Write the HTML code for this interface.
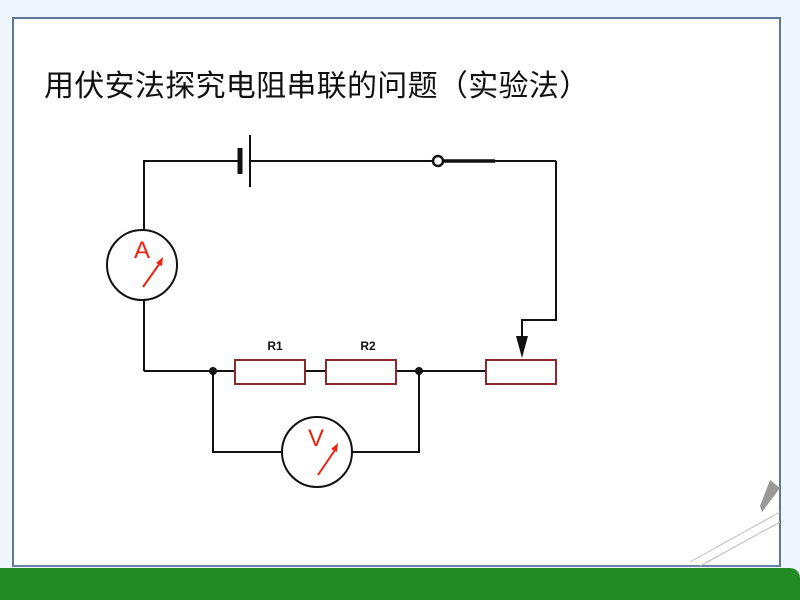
<!DOCTYPE html>
<html><head><meta charset="utf-8"><style>
html,body{margin:0;padding:0}
body{width:800px;height:600px;background:#eef5fb;position:relative;overflow:hidden;font-family:"Liberation Sans","Noto Sans CJK SC",sans-serif}
.frame{position:absolute;left:12px;top:17px;width:765px;height:546px;border:2px solid #5d7799;background:#fff;border-bottom-color:#6a84a8}
.title{position:absolute;left:44px;top:61px;font-size:30px;color:#111;white-space:nowrap;letter-spacing:0.3px}
.green{position:absolute;left:0;top:568px;width:800px;height:32px;background:#238b24;border-top-right-radius:10px}
</style></head><body>
<div class="frame"></div>
<div class="title">用伏安法探究电阻串联的问题（实验法）</div>
<svg style="position:absolute;left:0;top:0" width="800" height="600">
<g stroke="#111" stroke-width="2" fill="none">
<polyline points="240,161 144,161 144,230"/>
<line x1="250" y1="161" x2="433" y2="161"/>
<line x1="495" y1="161" x2="556" y2="161"/>
<polyline points="556,161 556,320 522,320 522,340"/>
<line x1="144" y1="300" x2="144" y2="371"/>
<line x1="144" y1="371" x2="235" y2="371"/>
<line x1="305" y1="371" x2="326" y2="371"/>
<line x1="396" y1="371" x2="486" y2="371"/>
<polyline points="213,371 213,452 282,452"/>
<polyline points="419,371 419,452 352,452"/>
<circle cx="142" cy="265" r="35"/>
<circle cx="317" cy="452" r="35"/>
<circle cx="438" cy="161" r="5" stroke-width="2.5"/>
</g>
<line x1="240" y1="148" x2="240" y2="174" stroke="#111" stroke-width="5"/>
<line x1="250" y1="135" x2="250" y2="187" stroke="#111" stroke-width="2"/>
<line x1="443" y1="161" x2="495" y2="161" stroke="#111" stroke-width="3.5"/>
<polygon points="516,336 528,336 522,358" fill="#111"/>
<circle cx="213" cy="371" r="4" fill="#111"/>
<circle cx="419" cy="371" r="4" fill="#111"/>
<g stroke="#8b2a2a" stroke-width="2" fill="#fff">
<rect x="235" y="360" width="70" height="24"/>
<rect x="326" y="360" width="70" height="24"/>
<rect x="486" y="360" width="70" height="24"/>
</g>
<text x="275" y="350" font-size="12" font-weight="bold" text-anchor="middle" fill="#111" font-family="Liberation Sans">R1</text>
<text x="368" y="350" font-size="12" font-weight="bold" text-anchor="middle" fill="#111" font-family="Liberation Sans">R2</text>
<text x="142" y="258" font-size="24" text-anchor="middle" fill="#e21" font-family="Liberation Sans">A</text>
<text x="316" y="446" font-size="24" text-anchor="middle" fill="#e21" font-family="Liberation Sans">V</text>
<g stroke="#e21" stroke-width="2">
<line x1="143" y1="287" x2="160" y2="263"/>
<line x1="318" y1="475" x2="335" y2="450"/>
</g>
<polygon points="163,257 156,263 162,266" fill="#e21"/>
<polygon points="338,443 331,449 337,452" fill="#e21"/>
<g stroke="#bbb" stroke-width="1" fill="none">
<line x1="690" y1="562" x2="780" y2="512"/>
<line x1="700" y1="566" x2="780" y2="522"/>
</g>
<polygon points="770,480 780,488 762,512 760,506" fill="#999"/>
</svg>
<div class="green"></div>
</body></html>
